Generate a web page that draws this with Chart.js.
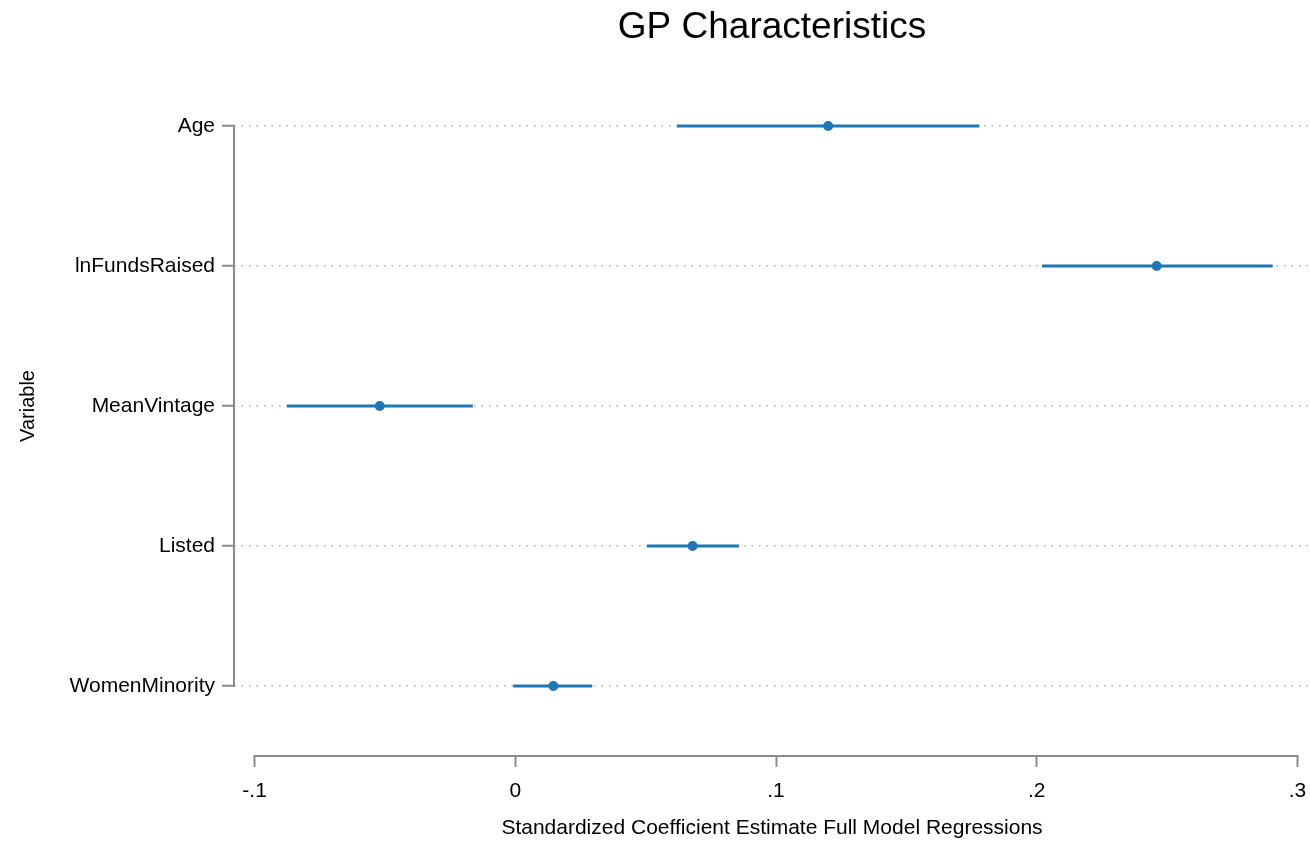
<!DOCTYPE html>
<html>
<head>
<meta charset="utf-8">
<script src="https://cdn.jsdelivr.net/npm/chart.js@4.4.0/dist/chart.umd.min.js"></script>
<style>
    html, body { margin: 0; padding: 0; background: #fff; }
    #wrap { width: 1310px; height: 842px; }
</style>
</head>
<body>
<div id="wrap"><canvas id="coefChart"></canvas></div>
<script>
const variables = ['Age', 'lnFundsRaised', 'MeanVintage', 'Listed', 'WomenMinority'];
const estimates = [0.120, 0.246, -0.052, 0.068, 0.0146];
const lowerCI = [0.062, 0.202, -0.0876, 0.0505, -0.0008];
const upperCI = [0.178, 0.2905, -0.0163, 0.0858, 0.0295];
const xTicks = [-0.1, 0, 0.1, 0.2, 0.3];
const xTickLabels = ['-.1', '0', '.1', '.2', '.3'];

const FONT = "'Liberation Sans', Arial, Helvetica, sans-serif";
const BLUE = '#1f77b4';
const AXIS_GREY = '#8a8a8a';

// axis lines only span the ticks (Stata style)
const axisLines = {
    id: 'axisLines',
    beforeDatasetsDraw(chart) {
        const { ctx, chartArea, scales: { x, y } } = chart;
        ctx.save();
        ctx.strokeStyle = AXIS_GREY;
        ctx.lineWidth = 2;
        ctx.beginPath();
        ctx.moveTo(chartArea.left, y.getPixelForValue(0) - 1);
        ctx.lineTo(chartArea.left, y.getPixelForValue(variables.length - 1) + 1);
        ctx.moveTo(x.getPixelForValue(xTicks[0]) - 1, chartArea.bottom);
        ctx.lineTo(x.getPixelForValue(xTicks[xTicks.length - 1]) + 1, chartArea.bottom);
        ctx.stroke();
        ctx.restore();
    }
};

const pointData = estimates.map((v, i) => ({ x: v, y: i }));

const ciSets = variables.map((name, i) => ({
    label: name + ' CI',
    data: [{ x: lowerCI[i], y: i }, { x: upperCI[i], y: i }],
    showLine: true,
    borderColor: BLUE,
    borderWidth: 3,
    pointRadius: 0
}));

new Chart(document.getElementById('coefChart'), {
    type: 'scatter',
    data: {
        datasets: [
            {
                label: 'Estimate',
                data: pointData,
                backgroundColor: BLUE,
                borderWidth: 0,
                pointRadius: 5
            },
            ...ciSets
        ]
    },
    options: {
        responsive: true,
        maintainAspectRatio: false,
        animation: false,
        layout: { padding: 0, autoPadding: false },
        plugins: {
            legend: { display: false },
            tooltip: { enabled: false },
            title: {
                display: true,
                text: 'GP Characteristics',
                fullSize: false,
                color: '#000',
                font: { family: FONT, size: 37, weight: 'normal' },
                padding: { top: 6, bottom: 5.6 }
            }
        },
        scales: {
            x: {
                type: 'linear',
                min: -0.1079,
                max: 0.3048,
                afterFit: s => {
                    s.height = 86;
                    s.paddingLeft = 0;
                    s.paddingRight = 0;
                },
                afterBuildTicks: s => { s.ticks = xTicks.map(v => ({ value: v })); },
                ticks: {
                    callback: v => xTickLabels[xTicks.indexOf(v)],
                    color: '#000',
                    font: { family: FONT, size: 21 },
                    padding: 12,
                    maxRotation: 0,
                    autoSkip: false
                },
                grid: {
                    drawOnChartArea: false,
                    drawTicks: true,
                    tickLength: 11,
                    tickColor: AXIS_GREY,
                    tickWidth: 2
                },
                border: { display: false },
                title: {
                    display: true,
                    text: 'Standardized Coefficient Estimate Full Model Regressions',
                    color: '#000',
                    font: { family: FONT, size: 21 },
                    padding: { top: 0, bottom: 1 }
                }
            },
            y: {
                type: 'linear',
                reverse: true,
                min: -0.5,
                max: 4.5,
                afterFit: s => {
                    s.width = 234;
                    s.paddingTop = 0;
                    s.paddingBottom = 0;
                },
                afterBuildTicks: s => { s.ticks = variables.map((v, i) => ({ value: i })); },
                ticks: {
                    callback: v => variables[v],
                    color: '#000',
                    font: { family: FONT, size: 21 },
                    padding: 7,
                    autoSkip: false
                },
                grid: {
                    drawOnChartArea: true,
                    color: '#b0b0b0',
                    lineWidth: 1.5,
                    tickLength: 12,
                    tickColor: AXIS_GREY,
                    tickWidth: 2
                },
                border: { display: false, dash: [1.5, 6] },
                title: {
                    display: true,
                    text: 'Variable',
                    color: '#000',
                    font: { family: FONT, size: 20 },
                    padding: { top: 16, bottom: 0 }
                }
            }
        }
    },
    plugins: [axisLines]
});
</script>
</body>
</html>
